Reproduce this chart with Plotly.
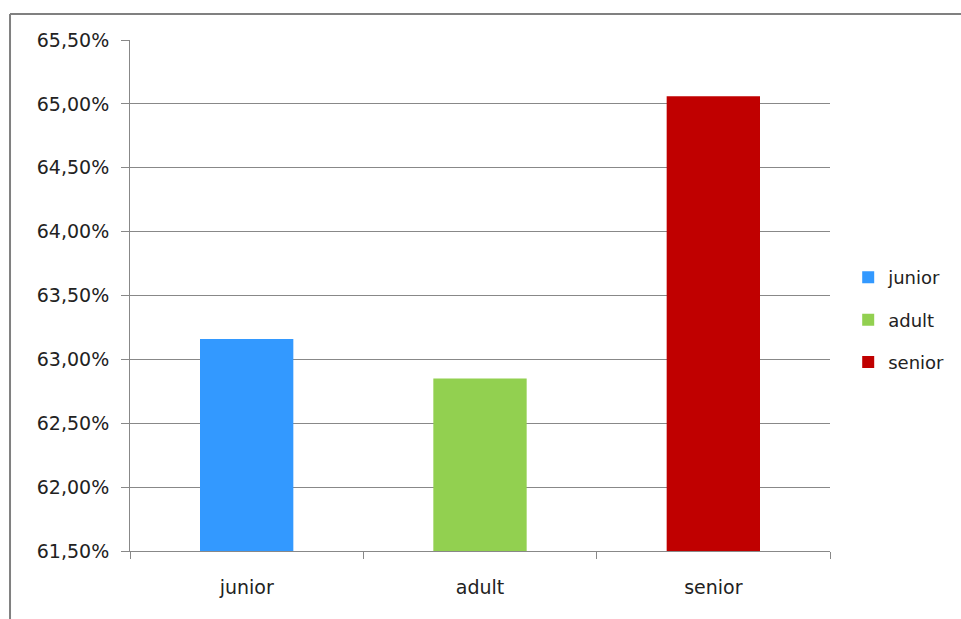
import plotly.graph_objects as go

# Share of each age group (fraction)
groups = ["junior", "adult", "senior"]
shares = [0.6316, 0.6285, 0.6506]
colors = ["#3399FF", "#92D050", "#C00000"]

y_ticks = [0.615, 0.62, 0.625, 0.63, 0.635, 0.64, 0.645, 0.65, 0.655]

fig = go.Figure()
for g, v, c in zip(groups, shares, colors):
    fig.add_trace(go.Bar(
        x=[g], y=[v], name=g, width=0.4,
        marker=dict(color=c, line=dict(width=0)),
        legendgroup=g,
    ))

font = dict(family="DejaVu Sans", size=19, color="#222222")

fig.update_layout(
    width=961, height=619,
    margin=dict(l=130, r=131, t=40, b=68, autoexpand=False),
    paper_bgcolor="white", plot_bgcolor="white",
    barmode="overlay",
    separators=",.",
    font=font,
    showlegend=True,
    legend=dict(
        x=1.026, xanchor="left", y=0.452, yanchor="middle",
        font=dict(family="DejaVu Sans", size=18, color="#222222"),
        tracegroupgap=16, itemwidth=30,
        bgcolor="rgba(0,0,0,0)",
    ),
    xaxis=dict(
        categoryorder="array", categoryarray=groups,
        showline=True, linecolor="#888888", linewidth=1,
        ticks="outside", ticklen=7, tickcolor="#888888",
        tickson="boundaries", showgrid=False,
        ticklabelstandoff=19,
    ),
    yaxis=dict(
        range=[0.615, 0.655], tickvals=y_ticks, tickformat=".2%",
        showline=True, linecolor="#888888", linewidth=1,
        ticks="outside", ticklen=8, tickcolor="#888888",
        showgrid=True, gridcolor="#888888", gridwidth=1,
        zeroline=False, ticklabelstandoff=8,
    ),
    shapes=[
        dict(type="line", xref="paper", yref="paper",
             x0=-0.1714, x1=1.2, y0=1.0509, y1=1.0509,
             line=dict(color="#808080", width=2)),
        dict(type="line", xref="paper", yref="paper",
             x0=-0.1714, x1=-0.1714, y0=1.0509, y1=-0.2,
             line=dict(color="#808080", width=2)),
    ],
)

fig.write_html("out.html")
